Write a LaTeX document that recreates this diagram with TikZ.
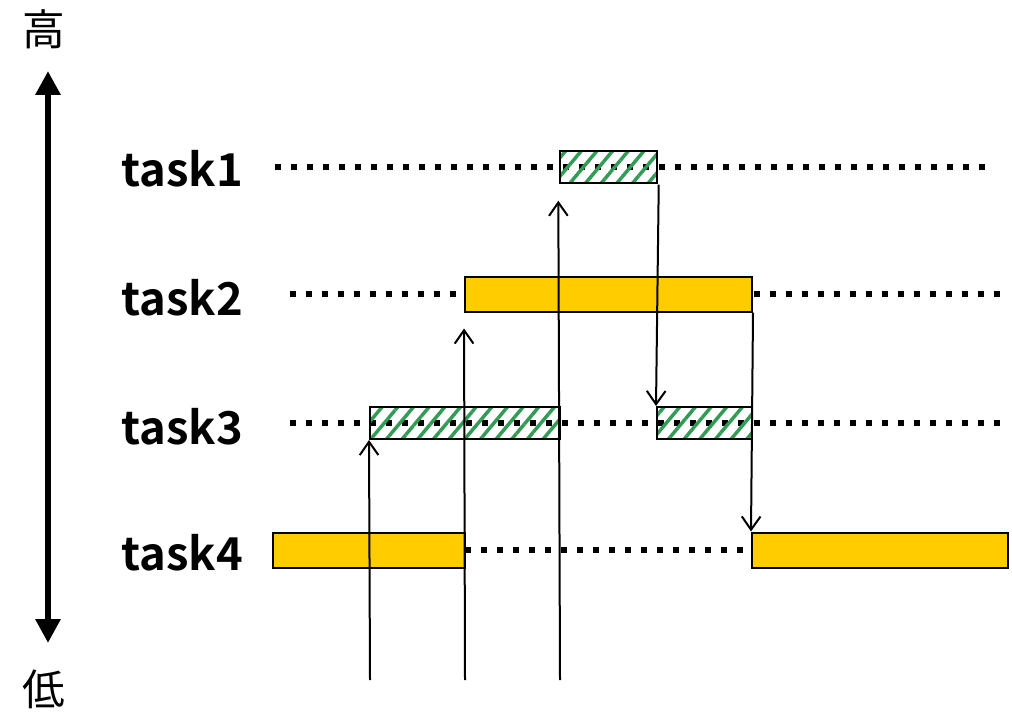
\documentclass[tikz,border=0pt]{standalone}
\usepackage{fontspec}
\setmainfont{Noto Sans CJK JP}[BoldFont={* Bold}]
\usetikzlibrary{arrows.meta,patterns.meta}
\definecolor{taskyellow}{RGB}{255,204,0}
\definecolor{hatchgreen}{RGB}{50,155,85}
\newcommand{\pxu}{0.75pt}

\begin{document}
\begin{tikzpicture}[x=0.75pt, y=-0.75pt,
  runbox/.style={draw, line width=1.5pt, fill=taskyellow, inner sep=0pt,
    minimum height=35*\pxu},
  waitbox/.style={draw, line width=1.5pt, inner sep=0pt, minimum height=32*\pxu,
    pattern={Lines[angle=50,distance=9pt,line width=2.6pt]}, pattern color=hatchgreen},
  idle/.style={line width=4.5pt, dash pattern=on 4.5pt off 7.5pt},
  event/.style={line width=1.5pt, -{Straight Barb[length=10pt,width=14pt]}},
  tlabel/.style={font=\bfseries\fontsize{34}{34}\selectfont, anchor=east, inner sep=0pt},
  prio/.style={font=\fontsize{32}{32}\selectfont, inner sep=0pt}]
  \useasboundingbox (0,0) rectangle (1012,713);

  % priority axis
  \node[prio] (hi) at (44,29) {高};
  \node[prio] (lo) at (44,689) {低};
  \coordinate (hitip) at (48,71);
  \coordinate (lotip) at (48,643);
  \draw[line width=5pt, {Triangle[length=18pt,width=18pt]}-{Triangle[length=18pt,width=18pt]}]
    (hitip) -- (lotip);

  % task names
  \node[tlabel] (n1) at (243,169) {task1};
  \node[tlabel] (n2) at (243,298) {task2};
  \node[tlabel] (n3) at (243,427) {task3};
  \node[tlabel] (n4) at (243,553) {task4};

  % dotted idle lines
  \coordinate (s1) at (275,167);  \coordinate (e1) at (992,167);
  \coordinate (s2) at (290,294);  \coordinate (e2) at (1002,294);
  \coordinate (s3) at (290,423);  \coordinate (e3) at (1002,423);
  \draw[idle] (s1) -- (608,167) -- (e1);
  \draw[idle] (s2) -- (e2);
  \draw[idle] (s3) -- (e3);
  \draw[idle] (465,550) -- (752,550);

  % running / waiting boxes
  \node[waitbox, minimum width=97*\pxu] (t1a) at (608.5,167) {};
  \node[runbox, minimum width=287*\pxu] (t2a) at (608.5,294) {};
  \node[waitbox, minimum width=190*\pxu] (t3a) at (465,423) {};
  \node[waitbox, minimum width=95*\pxu] (t3b) at (704.5,423) {};
  \node[runbox, minimum width=192*\pxu] (t4a) at (369,550) {};
  \node[runbox, minimum width=256*\pxu] (t4b) at (880,550) {};

  % events
  \coordinate (ev1) at (370,680);
  \coordinate (ev2) at (465,680);
  \coordinate (ev3) at (560,680);
  \draw[event] (ev1) -- (t3a.south west);
  \draw[event, shorten >=12pt] (ev2) -- (t2a.south west);
  \draw[event, shorten >=12pt] (ev3) -- (t1a.south west);
  \draw[event] (t1a.south east) -- (t3b.north west);
  \draw[event] (t2a.south east) -- (t4b.north west);
\end{tikzpicture}
\end{document}
